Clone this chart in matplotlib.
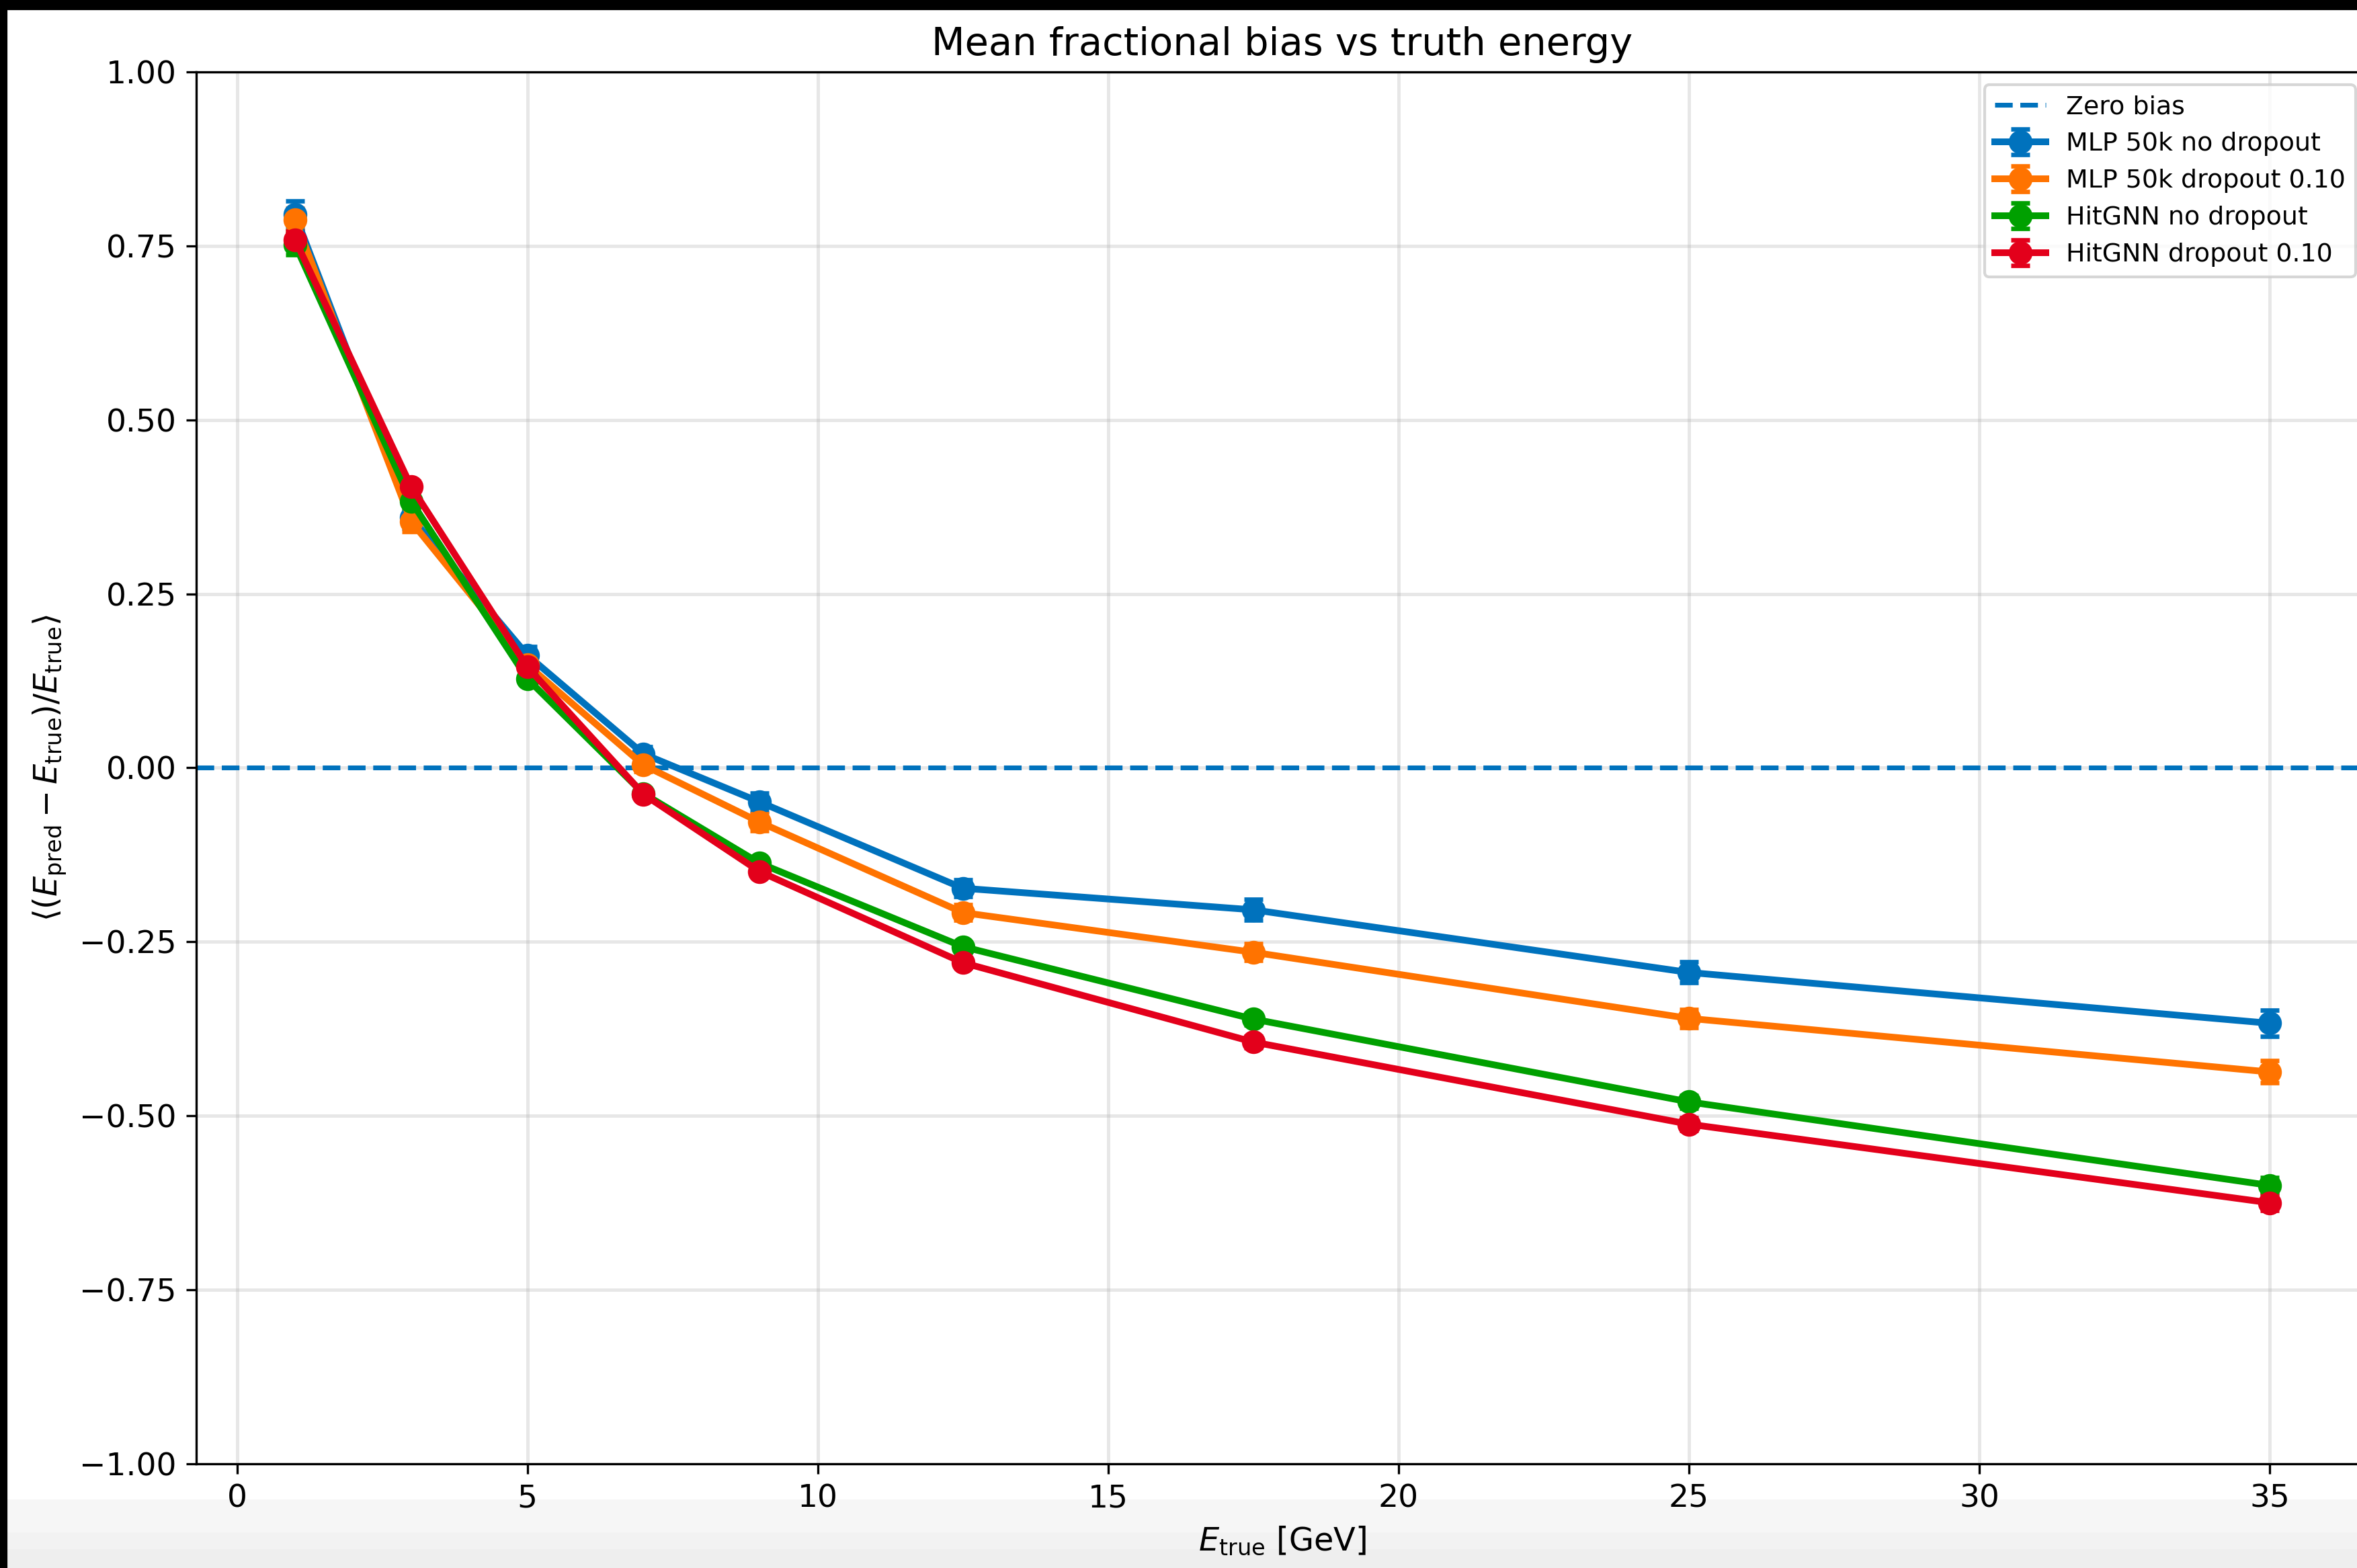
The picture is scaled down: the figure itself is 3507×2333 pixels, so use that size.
import numpy as np
import matplotlib
matplotlib.use("Agg")
from matplotlib import pyplot as plt
from matplotlib.patches import Rectangle

# truth energy bins [GeV]
e_true = [1, 3, 5, 7, 9, 12.5, 17.5, 25, 35]

labels = ["MLP 50k no dropout", "MLP 50k dropout 0.10",
          "HitGNN no dropout", "HitGNN dropout 0.10"]
colors = ["#0072BD", "#FF7300", "#00A000", "#E3001B"]

mlp_nodrop = [0.795, 0.360, 0.162, 0.020, -0.049, -0.173, -0.204, -0.294, -0.367]
mlp_drop = [0.788, 0.354, 0.148, 0.004, -0.078, -0.208, -0.265, -0.360, -0.437]
gnn_nodrop = [0.752, 0.383, 0.128, -0.037, -0.137, -0.257, -0.361, -0.480, -0.600]
gnn_drop = [0.759, 0.404, 0.145, -0.038, -0.149, -0.280, -0.394, -0.512, -0.625]

mlp_nodrop_err = [0.020, 0.016, 0.012, 0.010, 0.013, 0.012, 0.015, 0.015, 0.019]
mlp_drop_err = [0.016, 0.015, 0.010, 0.009, 0.012, 0.011, 0.012, 0.013, 0.016]
gnn_nodrop_err = [0.015, 0.010, 0.007, 0.006, 0.007, 0.006, 0.008, 0.009, 0.011]
gnn_drop_err = [0.012, 0.008, 0.007, 0.006, 0.007, 0.006, 0.008, 0.009, 0.011]

series = [mlp_nodrop, mlp_drop, gnn_nodrop, gnn_drop]
errors = [mlp_nodrop_err, mlp_drop_err, gnn_nodrop_err, gnn_drop_err]

fig = plt.figure(figsize=(3507 / 300, 2333 / 300), dpi=300)
# axes runs slightly past the right edge, as in the cropped original
ax = fig.add_axes([0.0833, 0.0665, 0.9215, 0.8876])

ax.axhline(0.0, color=colors[0], ls="--", lw=1.7, label="Zero bias", zorder=2)
for y, err, lab, c in zip(series, errors, labels, colors):
    ax.errorbar(e_true, y, yerr=err, marker="o", ms=7.5, lw=2.4, color=c,
                elinewidth=1.6, capsize=3.4, capthick=1.6, label=lab, zorder=3)

ax.set_xlim(-0.7, 36.7)
ax.set_ylim(-1.0, 1.0)
ax.set_yticks(np.arange(-1.0, 1.01, 0.25))
ax.grid(True, alpha=0.3, lw=1.2)
ax.tick_params(labelsize=11.3)

ax.set_title("Mean fractional bias vs truth energy", fontsize=13.8)
ax.set_xlabel(r"$E_{\mathrm{true}}$ [GeV]", fontsize=11.5)
ax.set_ylabel(r"$\langle (E_{\mathrm{pred}} - E_{\mathrm{true}})/E_{\mathrm{true}} \rangle$",
              fontsize=11.5)
ax.legend(loc="upper right", fontsize=9.1)

# screenshot edges: black bands at top and left, grey strip at bottom
fig.add_artist(Rectangle((0, 1 - 13 / 2333), 1, 13 / 2333, transform=fig.transFigure,
                         color="black", zorder=10))
fig.add_artist(Rectangle((0, 0), 9 / 3507, 1, transform=fig.transFigure,
                         color="black", zorder=10))
for y0, h, c in [(0, 30, "#eeeeee"), (30, 25, "#f2f2f2"), (55, 45, "#f6f6f6")]:
    fig.add_artist(Rectangle((9 / 3507, y0 / 2333), 1, h / 2333, transform=fig.transFigure,
                             color=c, zorder=0))

fig.savefig("out.png", dpi=300)
